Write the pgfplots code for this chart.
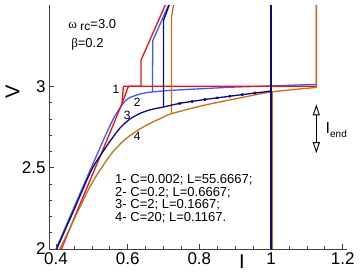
\documentclass[border=0pt]{standalone}
\usepackage{pgfplots}
\pgfplotsset{compat=1.18}
\usepackage{fontspec}
\setmainfont{Liberation Sans}
\newfontfamily\grk{Liberation Serif}
\usetikzlibrary{arrows.meta}
\definecolor{cRed}{RGB}{235,20,20}
\definecolor{cBlue}{RGB}{60,90,255}
\definecolor{cNavy}{RGB}{10,10,120}
\definecolor{cOrange}{RGB}{200,110,20}
\begin{document}
\begin{tikzpicture}
\begin{axis}[
  scale only axis, width=298pt, height=244pt,
  at={(0,0)}, anchor=south west,
  xmin=0.3804, xmax=1.212, ymin=2, ymax=3.5,
  axis x line=bottom, axis y line=left,
  axis line style={-, line width=0.9pt, draw=black!75},
  xtick={0.4,0.6,0.8,1,1.2}, ytick={2,2.5,3},
  minor x tick num=3, minor y tick num=4,
  tick align=inside, major tick length=5pt, minor tick length=3pt,
  tick style={line width=0.7pt, black!75},
  tick label style={font=\fontsize{17}{17}\selectfont},
  /pgf/number format/assume math mode=true,
  clip=false,
  every axis plot/.append style={line width=1.3pt, line join=round},
]
% curve 2 (blue)
\addplot[cBlue, smooth, tension=0.4] coordinates {(0.400,2) (0.449,2.25) (0.532,2.669) (0.560,2.800) (0.579,2.868) (0.593,2.910) (0.607,2.932) (0.635,2.953) (0.663,2.964) (0.719,2.975) (0.812,2.986) (0.905,2.996) (0.999,3.002) (1.12,3.012)};
\addplot[cBlue] coordinates {(1.12,3.012) (1.126,3.012) (1.126,3.5)};
\addplot[cBlue] coordinates {(0.714,3.5) (0.670,3.28) (0.669,2.965)};
% curve 1 (red)
\addplot[cRed] coordinates {(0.415,2) (0.462,2.25) (0.542,2.669) (0.584,2.894) (0.588,3.0) (1.126,3.0) (1.126,3.5)};
\addplot[cRed] coordinates {(0.705,3.5) (0.637,3.16) (0.637,3.0) (0.602,3.0) (0.584,2.894)};
% curve 4 (orange)
\addplot[cOrange, smooth, tension=0.4] coordinates {(0.411,2) (0.465,2.25) (0.494,2.38) (0.521,2.480) (0.556,2.590) (0.588,2.665) (0.621,2.720) (0.654,2.763) (0.691,2.802) (0.722,2.832) (0.812,2.883) (0.905,2.925) (0.999,2.965) (1.12,2.992)};
\addplot[cOrange] coordinates {(1.12,2.992) (1.127,2.995) (1.127,3.5)};
\addplot[cOrange] coordinates {(0.728,3.5) (0.722,3.42) (0.722,2.832)};
\addplot[cOrange] coordinates {(1.004,2.965) (1.004,2)};
% curve 3 (navy)
\addplot[cNavy, smooth, tension=0.4] coordinates {(0.402,2) (0.452,2.25) (0.500,2.490) (0.546,2.648) (0.579,2.745) (0.607,2.800) (0.635,2.834) (0.663,2.856) (0.700,2.873) (0.747,2.896) (0.812,2.918) (0.905,2.945) (1.0,2.971)};
\addplot[cNavy] coordinates {(0.716,3.5) (0.700,3.405) (0.700,2.873)};
\addplot[cNavy] coordinates {(1.0,3.5) (1.0,2)};
\addplot[cNavy, only marks, mark=*, mark size=0.9pt] coordinates {(0.745,2.895) (0.78,2.907) (0.815,2.919) (0.85,2.929) (0.885,2.939) (0.92,2.949) (0.955,2.959)};
% arrow I_end
\draw[{Triangle[open,length=11pt,width=7pt]}-{Triangle[open,length=11pt,width=7pt]}, line width=0.9pt, black]
  (axis cs:1.1264,2.589) -- (axis cs:1.1264,2.889);
\node[anchor=base west, inner sep=0pt] at (rel axis cs:0.928,0.474)
  {\fontsize{16}{16}\selectfont I\raisebox{-3.7pt}{\fontsize{10}{10}\selectfont end}};
% labels
\node[inner sep=0pt, xshift=-36.5pt, rotate=90, font=\fontsize{20}{20}\selectfont] at (rel axis cs:0,0.6434) {V};
\node[inner sep=0pt, anchor=north, yshift=-6pt, font=\fontsize{20}{20}\selectfont] at (rel axis cs:0.647,0) {I};
% parameters
\node[anchor=base west, inner sep=0pt, font=\fontsize{13}{13}\selectfont] at (rel axis cs:0.064,0.9045)
  {{\grk ω} \raisebox{-2.5pt}{\fontsize{12}{12}\selectfont rc}=3.0};
\node[anchor=base west, inner sep=0pt, font=\fontsize{13}{13}\selectfont] at (rel axis cs:0.074,0.8266)
  {{\grk β}=0.2};
% curve numbers
\node[inner sep=0pt, font=\fontsize{12}{12}\selectfont] at (rel axis cs:0.2248,0.6545) {1};
\node[inner sep=0pt, font=\fontsize{12}{12}\selectfont] at (rel axis cs:0.2963,0.5996) {2};
\node[inner sep=0pt, font=\fontsize{12}{12}\selectfont] at (rel axis cs:0.2628,0.5492) {3};
\node[inner sep=0pt, font=\fontsize{12}{12}\selectfont] at (rel axis cs:0.2963,0.4631) {4};
% legend text
\node[anchor=base west, inner sep=0pt, font=\fontsize{13}{13}\selectfont] at (rel axis cs:0.2215,0.2693) {1- C=0.002; L=55.6667;};
\node[anchor=base west, inner sep=0pt, font=\fontsize{13}{13}\selectfont] at (rel axis cs:0.2215,0.2168) {2- C=0.2; L=0.6667;};
\node[anchor=base west, inner sep=0pt, font=\fontsize{13}{13}\selectfont] at (rel axis cs:0.2215,0.1643) {3- C=2; L=0.1667;};
\node[anchor=base west, inner sep=0pt, font=\fontsize{13}{13}\selectfont] at (rel axis cs:0.2215,0.1119) {4- C=20; L=0.1167.};
\end{axis}
\pgfresetboundingbox
\useasboundingbox (-49pt,-24pt) rectangle (314pt,249pt);
\end{tikzpicture}
\end{document}
